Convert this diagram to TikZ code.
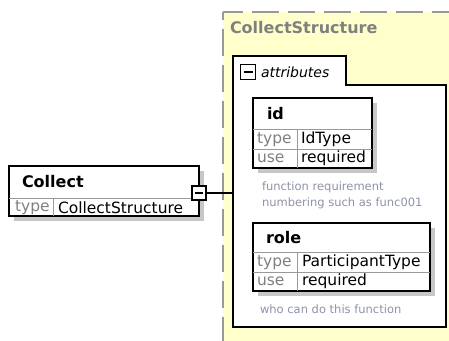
\documentclass[tikz,border=0pt]{standalone}
\usepackage{fontspec}
\setmainfont{DejaVu Sans}
\usetikzlibrary{shadows}
\definecolor{typeyellow}{HTML}{FFFFCC}
\definecolor{typeborder}{HTML}{999999}
\definecolor{doctext}{HTML}{8E94A8}

\begin{document}
\begin{tikzpicture}[x=1pt,y=-1pt,
  every node/.style={inner sep=0pt,outer sep=0pt},
  elembox/.style={draw,line width=1.3pt,fill=white,anchor=north west,
    general shadow={fill=black!22,draw=none,shadow xshift=5pt,shadow yshift=-5pt}},
  val/.style={anchor=west,font=\fontsize{15.5}{18}\selectfont},
  key/.style={val,text=gray},
  elemname/.style={anchor=west,font=\fontsize{16}{19}\selectfont\bfseries},
  doc/.style={anchor=west,text=doctext,font=\fontsize{11.5}{14}\selectfont},
  sep/.style={draw=gray!80,line width=0.8pt},
  minusbox/.style={draw,line width=1.6pt,fill=white,minimum size=14pt,
    path picture={\draw[line width=1.3pt] ([xshift=3pt]path picture bounding box.west)--([xshift=-3pt]path picture bounding box.east);}}]
\useasboundingbox (0,0) rectangle (449,340);
\begin{scope}
\clip (0,0) rectangle (449,340);
\fill[typeyellow] (223,12) rectangle (460,350);
\draw[typeborder,line width=2pt,dash pattern=on 27pt off 9pt,dash phase=7pt] (223,12)--(460,12);
\draw[typeborder,line width=2pt,dash pattern=on 27pt off 9pt,dash phase=19pt] (223,12)--(223,350);
\end{scope}
\node[elemname,text=gray] (typetitle) at (230,28) {CollectStructure};

% attributes group
\draw[line width=1.2pt,fill=white] (233,327)--(233,56)--(346,56)--(346,85)--(446,85)--(446,327)--cycle;
\coordinate (attrin) at (233,193);
\node[minusbox,line width=1.4pt,minimum size=15pt] (attrminus) at (248,72) {};
\node[anchor=west,font=\fontsize{14}{16}\selectfont\itshape] (attrlabel) at (261,72) {attributes};

% element Collect
\node[elembox,minimum width=190,minimum height=50] (collect) at (9,166) {};
\draw[sep] (9,198)--(199,198);
\draw[sep] (53,198)--(53,216);
\node[elemname] (collectname) at (22,182) {Collect};
\node[key] (collecttypekey) at (15,207.5) {type};
\node[val] (collecttype) at (58,207.5) {CollectStructure};
\node[minusbox] (collectminus) at (199,193) {};
\draw[line width=1.3pt] (collectminus.east)--(attrin);

% attribute id
\node[elembox,minimum width=119,minimum height=70] (idattr) at (253,98) {};
\draw[sep] (253,129)--(372,129);
\draw[sep] (253,149)--(372,149);
\draw[sep] (297,129)--(297,168);
\node[elemname] (idname) at (267,114) {id};
\node[key] (idtypekey) at (257,139.5) {type};
\node[val] (idtype) at (301,139.5) {IdType};
\node[key] (idusekey) at (257,158.5) {use};
\node[val] (iduse) at (301,158.5) {required};
\node[doc] (iddoc1) at (262,187) {function requirement};
\node[doc] (iddoc2) at (262,203) {numbering such as func001};

% attribute role
\node[elembox,minimum width=177,minimum height=68] (roleattr) at (253,223) {};
\draw[sep] (253,252)--(430,252);
\draw[sep] (253,272)--(430,272);
\draw[sep] (297,252)--(297,291);
\node[elemname] (rolename) at (266,238) {role};
\node[key] (roletypekey) at (257,262.5) {type};
\node[val] (roletype) at (302,262.5) {ParticipantType};
\node[key] (rolusekey) at (257,281.5) {use};
\node[val] (roleuse) at (302,281.5) {required};
\node[doc] (roledoc) at (260,309) {who can do this function};
\end{tikzpicture}
\end{document}
